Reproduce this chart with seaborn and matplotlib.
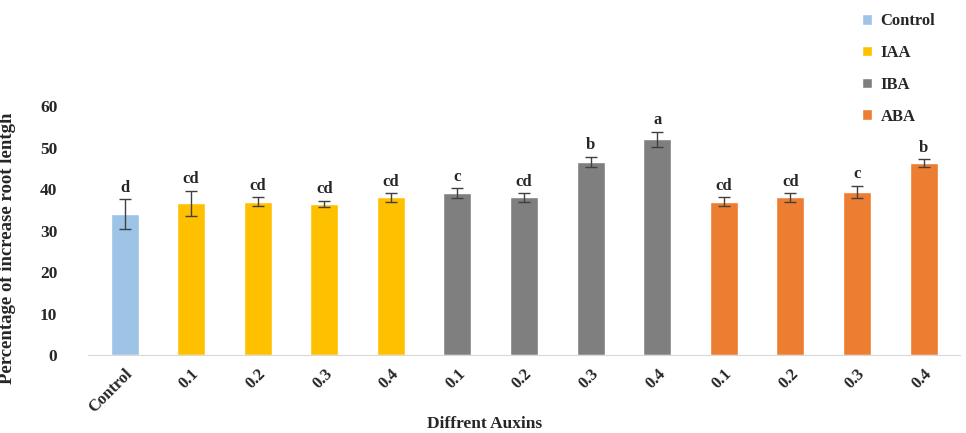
import numpy as np
import pandas as pd
import seaborn as sns
import matplotlib.pyplot as plt

# values
treatments = ["Control", "IAA", "IAA", "IAA", "IAA", "IBA", "IBA", "IBA", "IBA",
              "ABA", "ABA", "ABA", "ABA"]
tick_labels = ["Control", "0.1", "0.2", "0.3", "0.4", "0.1", "0.2", "0.3", "0.4",
               "0.1", "0.2", "0.3", "0.4"]
means = [34.0, 36.6, 37.0, 36.5, 38.0, 39.0, 38.0, 46.5, 52.0, 37.0, 38.0, 39.3, 46.2]
errors = [3.6, 3.0, 1.0, 0.7, 1.0, 1.2, 1.0, 1.3, 1.8, 1.0, 1.0, 1.5, 1.0]
letters = ["d", "cd", "cd", "cd", "cd", "c", "cd", "b", "a", "cd", "cd", "c", "b"]

colors = {"Control": "#9DC3E6", "IAA": "#FFC000", "IBA": "#7F7F7F", "ABA": "#ED7D31"}

sns.set_style("white")
plt.rcParams['font.family'] = ['Liberation Serif', 'DejaVu Serif']
plt.rcParams['font.weight'] = 'bold'

df = pd.DataFrame({"slot": [str(i) for i in range(len(means))],
                   "value": means,
                   "auxin": treatments})

fig = plt.figure(figsize=(9.66, 4.33), dpi=100)
ax = fig.add_axes([0.091, 0.18, 0.903, 0.575])

sns.barplot(data=df, x="slot", y="value", hue="auxin", palette=colors,
            dodge=False, width=0.42, saturation=1, ax=ax, legend=True)

pos = np.arange(len(means))
ax.errorbar(pos, means, yerr=errors, fmt="none", ecolor="#404040",
            elinewidth=1, capsize=4, capthick=1)

for x, m, e, l in zip(pos, means, errors, letters):
    ax.text(x, m + e + 0.8, l, ha="center", va="bottom", fontsize=12,
            fontweight="bold", clip_on=False)

ax.set_ylim(0, 60)
ax.set_xlim(-0.55, 12.55)
ax.set_yticks(range(0, 61, 10))
ax.set_xticks(pos)
ax.set_xticklabels(tick_labels, rotation=45, ha="right", rotation_mode="anchor",
                   fontsize=12, fontweight="bold")
ax.tick_params(axis="y", labelsize=12.5, length=0, pad=22)
ax.tick_params(axis="x", length=0, pad=8)
for s in ["top", "right", "left"]:
    ax.spines[s].set_visible(False)
ax.spines["bottom"].set_color("#D9D9D9")
ax.set_xlabel("Diffrent Auxins", fontsize=12.5, fontweight="bold")
ax.xaxis.set_label_coords(0.455, -0.245)
ax.set_ylabel("Percentage of increase root lentgh", fontsize=13.5, fontweight="bold")
ax.yaxis.set_label_coords(-0.082, 0.43)

leg = ax.legend(loc="upper left", bbox_to_anchor=(0.88, 1.4), frameon=False,
                fontsize=12, handlelength=0.6, handleheight=0.6, handletextpad=0.5,
                labelspacing=0.95, borderaxespad=0)
for t in leg.get_texts():
    t.set_fontweight("bold")

fig.savefig("out.png", dpi=100)
